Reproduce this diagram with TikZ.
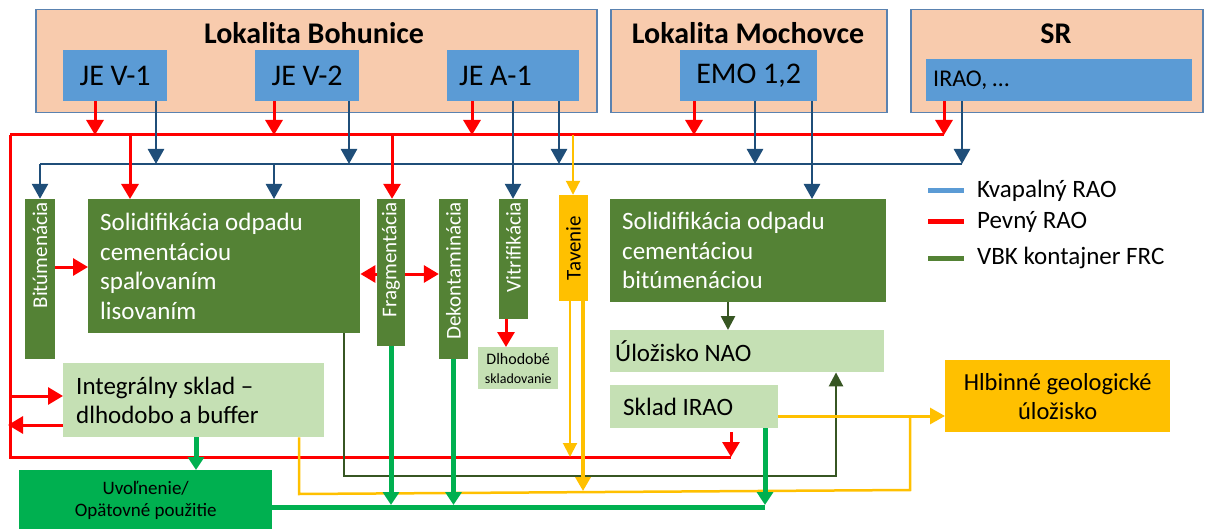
\documentclass[tikz,border=0pt]{standalone}
\usepackage{fontspec}
\setmainfont{Carlito}
\usetikzlibrary{arrows.meta}
\definecolor{peach}{HTML}{F8CBAD}
\definecolor{peachline}{HTML}{5A82B0}
\definecolor{srcblue}{HTML}{5B9BD5}
\definecolor{dblue}{HTML}{1F4E79}
\definecolor{dgreen}{HTML}{548235}
\definecolor{lgreen}{HTML}{C5E0B4}
\definecolor{bgreen}{HTML}{00B050}
\definecolor{gold}{HTML}{FFC000}
\definecolor{olive}{HTML}{375623}
\definecolor{rred}{HTML}{FF0000}
\newcommand{\myfs}[2]{\fontsize{#1}{#2}\selectfont}
\begin{document}
\begin{tikzpicture}[x=1pt,y=-1pt,
  peachbox/.style={fill=peach, draw=peachline, line width=1.5pt, inner sep=0pt},
  srcbox/.style={fill=srcblue, draw=none, inner sep=0pt, font=\myfs{30}{34}},
  titlef/.style={font=\bfseries\myfs{30}{34}, inner sep=0pt},
  dgbox/.style={fill=dgreen, draw=none, text=white},
  vbox/.style={fill=dgreen, draw=none, text=white, rotate=90, inner sep=3pt, align=flush right, font=\myfs{21}{24}},
  lgbox/.style={fill=lgreen, draw=none},
  redline/.style={draw=rred, line width=3pt},
  redarr/.style={draw=rred, line width=3pt, -{Triangle[width=17pt,length=15pt]}},
  blueline/.style={draw=dblue, line width=2.6pt},
  bluearr/.style={draw=dblue, line width=2.6pt, -{Triangle[width=16pt,length=15pt]}},
  garr/.style={draw=bgreen, line width=5pt, -{Triangle[width=16pt,length=13pt]}},
  gline/.style={draw=bgreen, line width=5pt},
  olivearr/.style={draw=olive, line width=2.6pt, -{Triangle[width=14pt,length=14pt]}},
  yline/.style={draw=gold, line width=2.5pt},
  ythinarr/.style={draw=gold, line width=2pt, -{Triangle[width=14pt,length=14pt]}},
  ythickarr/.style={draw=gold, line width=3.5pt, -{Triangle[width=15pt,length=14pt]}},
  yarr/.style={draw=gold, line width=3pt, -{Triangle[width=16pt,length=15pt]}},
  legline/.style={line width=5pt},
  legtext/.style={anchor=west, inner sep=0pt, font=\myfs{25}{29}}
]
\useasboundingbox (0,0) rectangle (1206,529);

% ---------- top sites ----------
\node[peachbox, minimum width=561pt, minimum height=103pt, anchor=north west] (boh) at (35,9) {};
\node[titlef, anchor=base] (bohT) at (314,44) {Lokalita Bohunice};
\node[peachbox, minimum width=276pt, minimum height=103pt, anchor=north west] (moch) at (610,9) {};
\node[titlef, anchor=base] (mochT) at (748,44) {Lokalita Mochovce};
\node[peachbox, minimum width=292pt, minimum height=103pt, anchor=north west] (sr) at (910,9) {};
\node[titlef, anchor=base] (srT) at (1056,44) {SR};

\node[srcbox, minimum width=104pt, minimum height=51pt, anchor=north west] (v1) at (63,50) {JE V-1};
\node[srcbox, minimum width=104pt, minimum height=51pt, anchor=north west] (v2) at (255,50) {JE V-2};
\node[srcbox, minimum width=132pt, minimum height=51pt, anchor=north west, text width=108pt, inner xsep=12pt, align=flush left] (a1) at (447,50) {JE A-1};
\node[srcbox, minimum width=137pt, minimum height=51pt, anchor=north west] (emo) at (680,50) {EMO 1,2};
\node[srcbox, minimum width=266pt, minimum height=42pt, anchor=north west, text width=252pt, inner xsep=7pt, align=flush left, font=\myfs{24}{27}] (irao) at (926,59) {IRAO, …};

% ---------- buses ----------
\coordinate (rL) at (10,135);
\coordinate (rR) at (944,135);
\coordinate (bL) at (40,164);
\coordinate (bR) at (962,164);
\coordinate (rB) at (10,457);
\coordinate (rBR) at (731,457);

% ---------- middle boxes ----------
\node[vbox, minimum width=160pt, minimum height=30pt, text width=154pt] (bit) at (40,279) {Bitúmenácia};
\node[dgbox, minimum width=272pt, minimum height=134pt, anchor=north west, text width=248pt, inner xsep=12pt, inner ysep=0pt, align=flush left, font=\myfs{25}{29.5}] (solL) at (88,199)
  {Solidifikácia odpadu\\cementáciou\\spaľovaním\\lisovaním};
\node[vbox, minimum width=147pt, minimum height=28pt, text width=141pt] (frag) at (391,272.5) {Fragmentácia};
\node[vbox, minimum width=160pt, minimum height=29pt, text width=154pt] (dek) at (453.5,279) {Dekontaminácia};
\node[vbox, minimum width=120pt, minimum height=29pt, text width=114pt] (vit) at (513.5,259) {Vitrifikácia};
\node[vbox, fill=gold, text=black, align=flush center, minimum width=106pt, minimum height=29pt, text width=100pt, font=\myfs{21}{24}] (tav) at (573.5,248) {Tavenie};
\node[dgbox, minimum width=276pt, minimum height=103pt, anchor=north west, text width=252pt, inner xsep=12pt, inner ysep=0pt, align=flush left, font=\myfs{25}{29.5}] (solR) at (610,199)
  {Solidifikácia odpadu\\cementáciou\\bitúmenáciou};
\node[lgbox, minimum width=274pt, minimum height=42pt, anchor=north west, text width=264pt, inner xsep=5pt, align=flush left, font=\myfs{25}{29}] (nao) at (610,330) {Úložisko NAO};
\node[lgbox, minimum width=168pt, minimum height=43pt, anchor=north west, text width=142pt, inner xsep=13pt, align=flush left, font=\myfs{25}{29}] (irsk) at (610,385) {Sklad IRAO};
\node[lgbox, minimum width=80pt, minimum height=42pt, anchor=north west, inner sep=0pt, align=flush center, font=\myfs{14}{19}] (dlh) at (478,347) {{\myfs{16}{19}Dlhodobé}\\skladovanie};
\node[lgbox, minimum width=261pt, minimum height=74pt, anchor=north west, text width=235pt, inner xsep=13pt, align=flush left, font=\myfs{25}{29}] (int) at (63,363) {Integrálny sklad –\\dlhodobo a buffer};
\node[fill=bgreen, draw=none, minimum width=253pt, minimum height=60pt, anchor=north west, align=flush center, font=\myfs{19}{22}] (uvo) at (19,470) {Uvoľnenie/\\Opätovné použitie};
\node[fill=gold, draw=none, minimum width=225pt, minimum height=72pt, anchor=north west, align=flush center, font=\myfs{24.5}{29}] (hgu) at (945,360) {Hlbinné geologické\\úložisko};

% ---------- legend ----------
\coordinate (lg1a) at (928,191); \coordinate (lg1b) at (964,191);
\coordinate (lg2a) at (928,222); \coordinate (lg2b) at (964,222);
\coordinate (lg3a) at (928,258); \coordinate (lg3b) at (964,258);
\draw[legline, srcblue] (lg1a) -- (lg1b);
\draw[legline, rred] (lg2a) -- (lg2b);
\draw[legline, dgreen] (lg3a) -- (lg3b);
\node[legtext] (lt1) at (977,191) {Kvapalný RAO};
\node[legtext] (lt2) at (977,222) {Pevný RAO};
\node[legtext] (lt3) at (977,258) {VBK kontajner FRC};

% ---------- bottom lines (drawn first, under arrows) ----------
\draw[redline] (rL) -- (rB) -- (rBR);
\draw[olivearr] (344,0 |- solL.south) |- (836,476) -- (836,0 |- nao.south);
\draw[yline] (299,0 |- int.south) -- (299,494) -- (910,490) -- (910,416);
\draw[gline] (uvo.east |- 0,507) -- (765,507);

% ---------- buses ----------
\draw[redline] (rL) -- (rR);
\draw[blueline] (bL) -- (bR);

% sources -> buses
\draw[redarr] (95,0 |- v1.south) -- (95,0 |- rL);
\draw[bluearr] (156,0 |- v1.south) -- (156,0 |- bL);
\draw[redarr] (274,0 |- v2.south) -- (274,0 |- rL);
\draw[bluearr] (349,0 |- v2.south) -- (349,0 |- bL);
\draw[redarr] (472,0 |- a1.south) -- (472,0 |- rL);
\draw[bluearr] (513,0 |- a1.south) -- (513,0 |- vit.east);
\draw[bluearr] (559,0 |- a1.south) -- (559,0 |- bL);
\draw[redarr] (694,0 |- emo.south) -- (694,0 |- rL);
\draw[bluearr] (755,0 |- emo.south) -- (755,0 |- bL);
\draw[bluearr] (812,0 |- emo.south) -- (812,0 |- solR.north);
\draw[redarr] (rR |- irao.south) -- (rR);
\draw[bluearr] (bR |- irao.south) -- (bR);

% buses -> processes
\draw[bluearr] (bL) -- (bL |- bit.east);
\draw[redarr] (130,0 |- rL) -- (130,0 |- solL.north);
\draw[bluearr] (274,0 |- bL) -- (274,0 |- solL.north);
\draw[redarr] (392,0 |- rL) -- (392,0 |- frag.east);
\draw[ythinarr] (573,0 |- rL) -- (573,0 |- tav.east);

% process arrows
\draw[redarr] (bit.south |- 0,267) -- (solL.west |- 0,267);
\draw[redarr] (frag.north |- 0,274) -- (solL.east |- 0,274);
\draw[redarr] (frag.south |- 0,274) -- (dek.north |- 0,274);
\draw[redarr] (506,0 |- vit.west) -- (506,0 |- dlh.north);
\draw[olivearr] (728,0 |- solR.south) -- (728,0 |- nao.north);

% green flows
\draw[garr] (frag.west) -- (frag.west |- 0,505);
\draw[garr] (dek.west) -- (dek.west |- 0,505);
\draw[garr] (765,0 |- irsk.south) -- (765,505);
\draw[garr] (196,0 |- int.south) -- (196,0 |- uvo.north);

% red to/from integral store
\draw[redarr] (10,396) -- (int.west |- 0,396);
\draw[redarr] (int.west |- 0,425) -- (8,425);
\draw[redarr] (731,432) -- (rBR);

% yellow flows
\draw[ythinarr] (570,0 |- tav.west) -- (570,457);
\draw[ythickarr] (583,0 |- tav.west) -- (583,491);
\draw[yarr] (irsk.east |- 0,416) -- (hgu.west |- 0,416);
\end{tikzpicture}
\end{document}
